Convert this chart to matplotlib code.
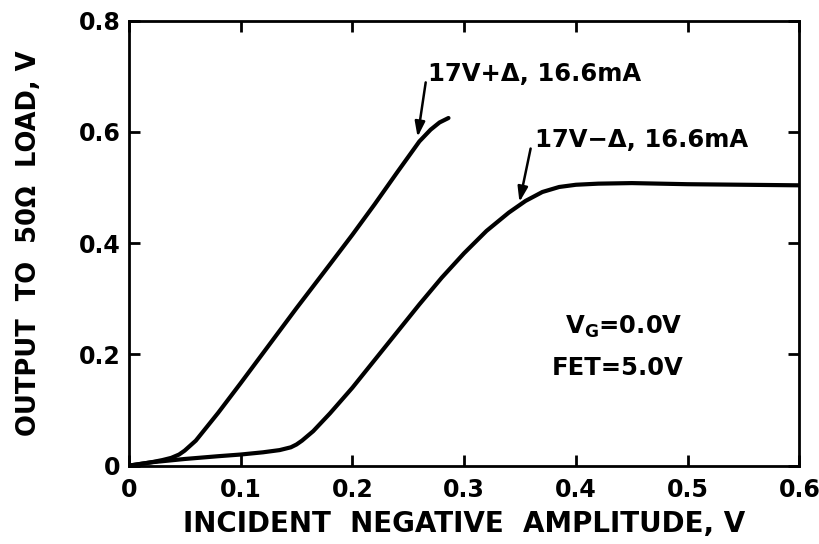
import matplotlib
matplotlib.use("Agg")
import matplotlib.pyplot as plt
import numpy as np

# curve 17V+delta
x_plus = [0.0, 0.01, 0.02, 0.03, 0.038, 0.045, 0.05, 0.055, 0.06, 0.08, 0.10, 0.12, 0.15, 0.18, 0.20, 0.22, 0.24, 0.26, 0.27, 0.278, 0.286]
y_plus = [0.0, 0.003, 0.006, 0.010, 0.014, 0.020, 0.027, 0.036, 0.045, 0.095, 0.148, 0.202, 0.283, 0.362, 0.415, 0.470, 0.527, 0.583, 0.604, 0.617, 0.625]

# curve 17V-delta
x_minus = [0.0, 0.02, 0.05, 0.08, 0.10, 0.12, 0.135, 0.145, 0.15, 0.155, 0.165, 0.18, 0.20, 0.22, 0.24, 0.26, 0.28, 0.30, 0.32, 0.34, 0.355, 0.37, 0.385, 0.40, 0.42, 0.45, 0.50, 0.55, 0.60]
y_minus = [0.0, 0.006, 0.012, 0.017, 0.020, 0.024, 0.028, 0.033, 0.038, 0.045, 0.062, 0.094, 0.14, 0.19, 0.24, 0.29, 0.338, 0.382, 0.422, 0.455, 0.476, 0.492, 0.501, 0.505, 0.507, 0.508, 0.506, 0.505, 0.504]

x_ticks = [0, 0.1, 0.2, 0.3, 0.4, 0.5, 0.6]
x_labels = ["0", "0.1", "0.2", "0.3", "0.4", "0.5", "0.6"]
y_ticks = [0, 0.2, 0.4, 0.6, 0.8]
y_labels = ["0", "0.2", "0.4", "0.6", "0.8"]

plt.rcParams["font.weight"] = "bold"
plt.rcParams["mathtext.default"] = "regular"

fig = plt.figure(figsize=(8.2, 5.44), dpi=100)
ax = fig.add_axes([0.157, 0.144, 0.818, 0.818])

ax.plot(x_plus, y_plus, color="black", lw=3.0, solid_capstyle="round")
ax.plot(x_minus, y_minus, color="black", lw=3.0, solid_capstyle="round")

ax.set_xlim(0, 0.6)
ax.set_ylim(0, 0.8)
ax.set_xticks(x_ticks)
ax.set_xticklabels(x_labels)
ax.set_yticks(y_ticks)
ax.set_yticklabels(y_labels)
ax.tick_params(direction="in", top=True, right=True, length=8, width=2,
               labelsize=17, pad=9)
ax.tick_params(axis="y", pad=6)
for s in ax.spines.values():
    s.set_linewidth(2)

ax.set_xlabel("INCIDENT  NEGATIVE  AMPLITUDE, V", fontsize=20, fontweight="bold", labelpad=6)
ax.set_ylabel("OUTPUT  TO  50Ω  LOAD, V", fontsize=18.5, fontweight="bold", labelpad=26)

# annotations
ax.annotate("", xy=(0.258, 0.586), xytext=(0.266, 0.694),
            arrowprops=dict(arrowstyle="-|>,head_length=0.9,head_width=0.3", color="black", lw=1.8))
ax.text(0.268, 0.704, "17V+Δ, 16.6mA", fontsize=17.5, ha="left", va="center")
ax.annotate("", xy=(0.349, 0.469), xytext=(0.360, 0.575),
            arrowprops=dict(arrowstyle="-|>,head_length=0.9,head_width=0.3", color="black", lw=1.8))
ax.text(0.363, 0.585, "17V−Δ, 16.6mA", fontsize=17.5, ha="left", va="center")

ax.text(0.443, 0.25, "$\\mathbf{V_G}$=0.0V", fontsize=17.5, ha="center", va="center")
ax.text(0.437, 0.175, "FET=5.0V", fontsize=17.5, ha="center", va="center")

fig.savefig("out.png", dpi=100)
